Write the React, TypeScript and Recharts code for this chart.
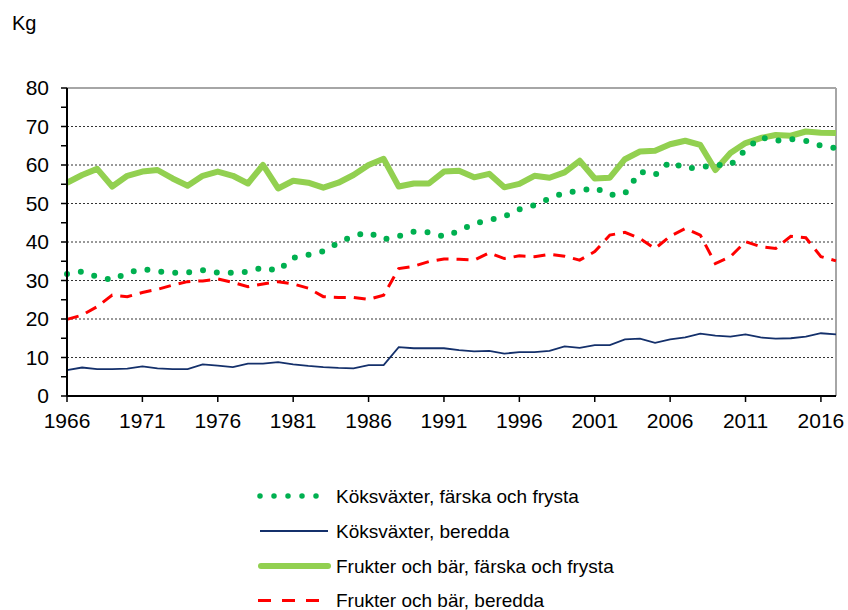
import React from 'react';
import { LineChart, Line, XAxis, YAxis, ReferenceLine } from 'recharts';

const years = Array.from({ length: 52 }, (_, i) => 1966 + i);

const vegFresh = [
  31.7, 32.3, 31.0, 30.1, 32.0, 33.0, 32.4, 32.0, 32.1, 32.7,
  32.0, 32.0, 32.3, 33.4, 32.5, 35.9, 36.7, 37.6, 39.8, 41.6,
  42.5, 40.7, 41.5, 42.7, 42.5, 41.4, 42.9, 44.8, 45.7, 46.6,
  48.5, 49.6, 51.3, 52.8, 53.3, 54.1, 52.2, 52.6, 58.3, 57.4,
  60.9, 59.1, 59.4, 60.0, 60.0, 63.9, 67.2, 66.3, 66.7, 66.3,
  65.0, 64.4,
];

const vegProcessed = [
  6.7, 7.4, 7.0, 7.0, 7.1, 7.7, 7.2, 7.0, 7.0, 8.2,
  7.9, 7.5, 8.4, 8.4, 8.8, 8.2, 7.8, 7.5, 7.3, 7.2,
  8.0, 8.0, 12.7, 12.4, 12.4, 12.4, 11.9, 11.6, 11.7, 11.0,
  11.4, 11.4, 11.7, 12.9, 12.5, 13.2, 13.2, 14.7, 14.9, 13.8,
  14.7, 15.2, 16.2, 15.7, 15.4, 16.0, 15.2, 14.9, 15.0, 15.4,
  16.3, 16.0,
];

const fruitFresh = [
  55.4, 57.4, 59.0, 54.4, 57.2, 58.3, 58.7, 56.5, 54.6, 57.2,
  58.3, 57.2, 55.2, 60.0, 53.9, 55.9, 55.4, 54.1, 55.4, 57.4,
  60.0, 61.6, 54.4, 55.2, 55.2, 58.3, 58.5, 56.8, 57.7, 54.2,
  55.1, 57.2, 56.7, 58.1, 61.1, 56.5, 56.7, 61.5, 63.5, 63.7,
  65.4, 66.3, 65.2, 58.7, 63.1, 65.7, 67.0, 67.8, 67.6, 68.7,
  68.4, 68.3,
];

const fruitProcessed = [
  19.9, 21.0, 23.2, 26.2, 25.8, 26.9, 27.7, 28.8, 29.7, 29.9,
  30.4, 29.5, 28.4, 29.1, 29.7, 29.1, 28.0, 25.8, 25.6, 25.6,
  25.1, 26.2, 33.1, 33.7, 34.9, 35.6, 35.5, 35.3, 37.2, 35.7,
  36.4, 36.2, 36.8, 36.3, 35.3, 37.5, 41.8, 42.5, 40.9, 38.3,
  41.5, 43.5, 41.8, 34.4, 36.2, 40.1, 38.8, 38.3, 41.5, 41.1,
  36.2, 35.1,
];

const xTicks = [1966, 1971, 1976, 1981, 1986, 1991, 1996, 2001, 2006, 2011, 2016];
const yTicks = [0, 5, 10, 15, 20, 25, 30, 35, 40, 45, 50, 55, 60, 65, 70, 75, 80];
const gridValues = [10, 20, 30, 40, 50, 60, 70];

const data = years.map((year, i) => ({
  year,
  vegFresh: vegFresh[i],
  vegProcessed: vegProcessed[i],
  fruitFresh: fruitFresh[i],
  fruitProcessed: fruitProcessed[i],
}));

const FONT = '"Liberation Sans", Arial, sans-serif';

const legendItems = [
  { name: 'Köksväxter, färska och frysta', stroke: '#00B050', width: 5.5, dash: '0 14', cap: 'round' as const, x1: 260, x2: 318 },
  { name: 'Köksväxter, beredda', stroke: '#14306B', width: 2, dash: undefined, cap: 'butt' as const, x1: 260, x2: 328 },
  { name: 'Frukter och bär, färska och frysta', stroke: '#92D050', width: 6, dash: undefined, cap: 'round' as const, x1: 261, x2: 328 },
  { name: 'Frukter och bär, beredda', stroke: '#FF0000', width: 3, dash: '13 11', cap: 'butt' as const, x1: 258, x2: 320 },
];
const legendRowsY = [496, 531, 566, 600.5];

export default function App() {
  return (
    <div style={{ position: 'absolute', left: 0, top: 0, width: 848, height: 610, fontFamily: FONT, background: '#fff' }}>
      <div style={{ position: 'absolute', left: 12, top: 13, fontSize: 20, lineHeight: '20px', color: '#000' }}>Kg</div>

      <LineChart
        width={848}
        height={610}
        data={data}
        margin={{ top: 88, right: 12, bottom: 174, left: 7 }}
        style={{ fontFamily: FONT }}
      >
        <XAxis
          dataKey="year"
          type="number"
          domain={[1966, 2017]}
          ticks={xTicks}
          height={40}
          interval={0}
          tickSize={6}
          tickMargin={11}
          axisLine={{ stroke: '#000', strokeWidth: 2 }}
          tickLine={{ stroke: '#000', strokeWidth: 1.5 }}
          tick={{ fill: '#000', fontSize: 21 }}
        />
        <YAxis
          type="number"
          domain={[0, 80]}
          ticks={yTicks}
          width={60}
          interval={0}
          tickSize={6}
          tickMargin={12}
          tickFormatter={(v: number) => (v % 10 === 0 ? String(v) : '')}
          axisLine={{ stroke: '#000', strokeWidth: 2 }}
          tickLine={{ stroke: '#000', strokeWidth: 1.5 }}
          tick={{ fill: '#000', fontSize: 21 }}
        />
        {gridValues.map((v) => (
          <ReferenceLine key={v} y={v} stroke="#333" strokeWidth={1} strokeDasharray="2 2" />
        ))}
        <ReferenceLine y={80} stroke="#A6A6A6" strokeWidth={2} />
        <ReferenceLine x={2017} stroke="#A6A6A6" strokeWidth={2} />

        <Line
          type="linear"
          dataKey="fruitFresh"
          name="Frukter och bär, färska och frysta"
          stroke="#92D050"
          strokeWidth={6}
          strokeLinejoin="round"
          dot={false}
          activeDot={false}
          isAnimationActive={false}
        />
        <Line
          type="linear"
          dataKey="fruitProcessed"
          name="Frukter och bär, beredda"
          stroke="#FF0000"
          strokeWidth={3}
          strokeDasharray="12 8"
          dot={false}
          activeDot={false}
          isAnimationActive={false}
        />
        <Line
          type="linear"
          dataKey="vegProcessed"
          name="Köksväxter, beredda"
          stroke="#14306B"
          strokeWidth={1.8}
          dot={false}
          activeDot={false}
          isAnimationActive={false}
        />
        <Line
          type="linear"
          dataKey="vegFresh"
          name="Köksväxter, färska och frysta"
          stroke="#00B050"
          strokeWidth={6}
          strokeDasharray="0 14"
          strokeLinecap="round"
          dot={false}
          activeDot={false}
          isAnimationActive={false}
        />
      </LineChart>

      {/* förklaring */}
      <svg width={848} height={610} style={{ position: 'absolute', left: 0, top: 0, pointerEvents: 'none' }}>
        {legendItems.map((item, i) => (
          <g key={item.name}>
            <line
              x1={item.x1}
              x2={item.x2}
              y1={legendRowsY[i]}
              y2={legendRowsY[i]}
              stroke={item.stroke}
              strokeWidth={item.width}
              strokeDasharray={item.dash}
              strokeLinecap={item.cap}
            />
            <text x={336} y={legendRowsY[i] + 6.8} fontSize={19} fill="#000" fontFamily={FONT}>
              {item.name}
            </text>
          </g>
        ))}
      </svg>
    </div>
  );
}
